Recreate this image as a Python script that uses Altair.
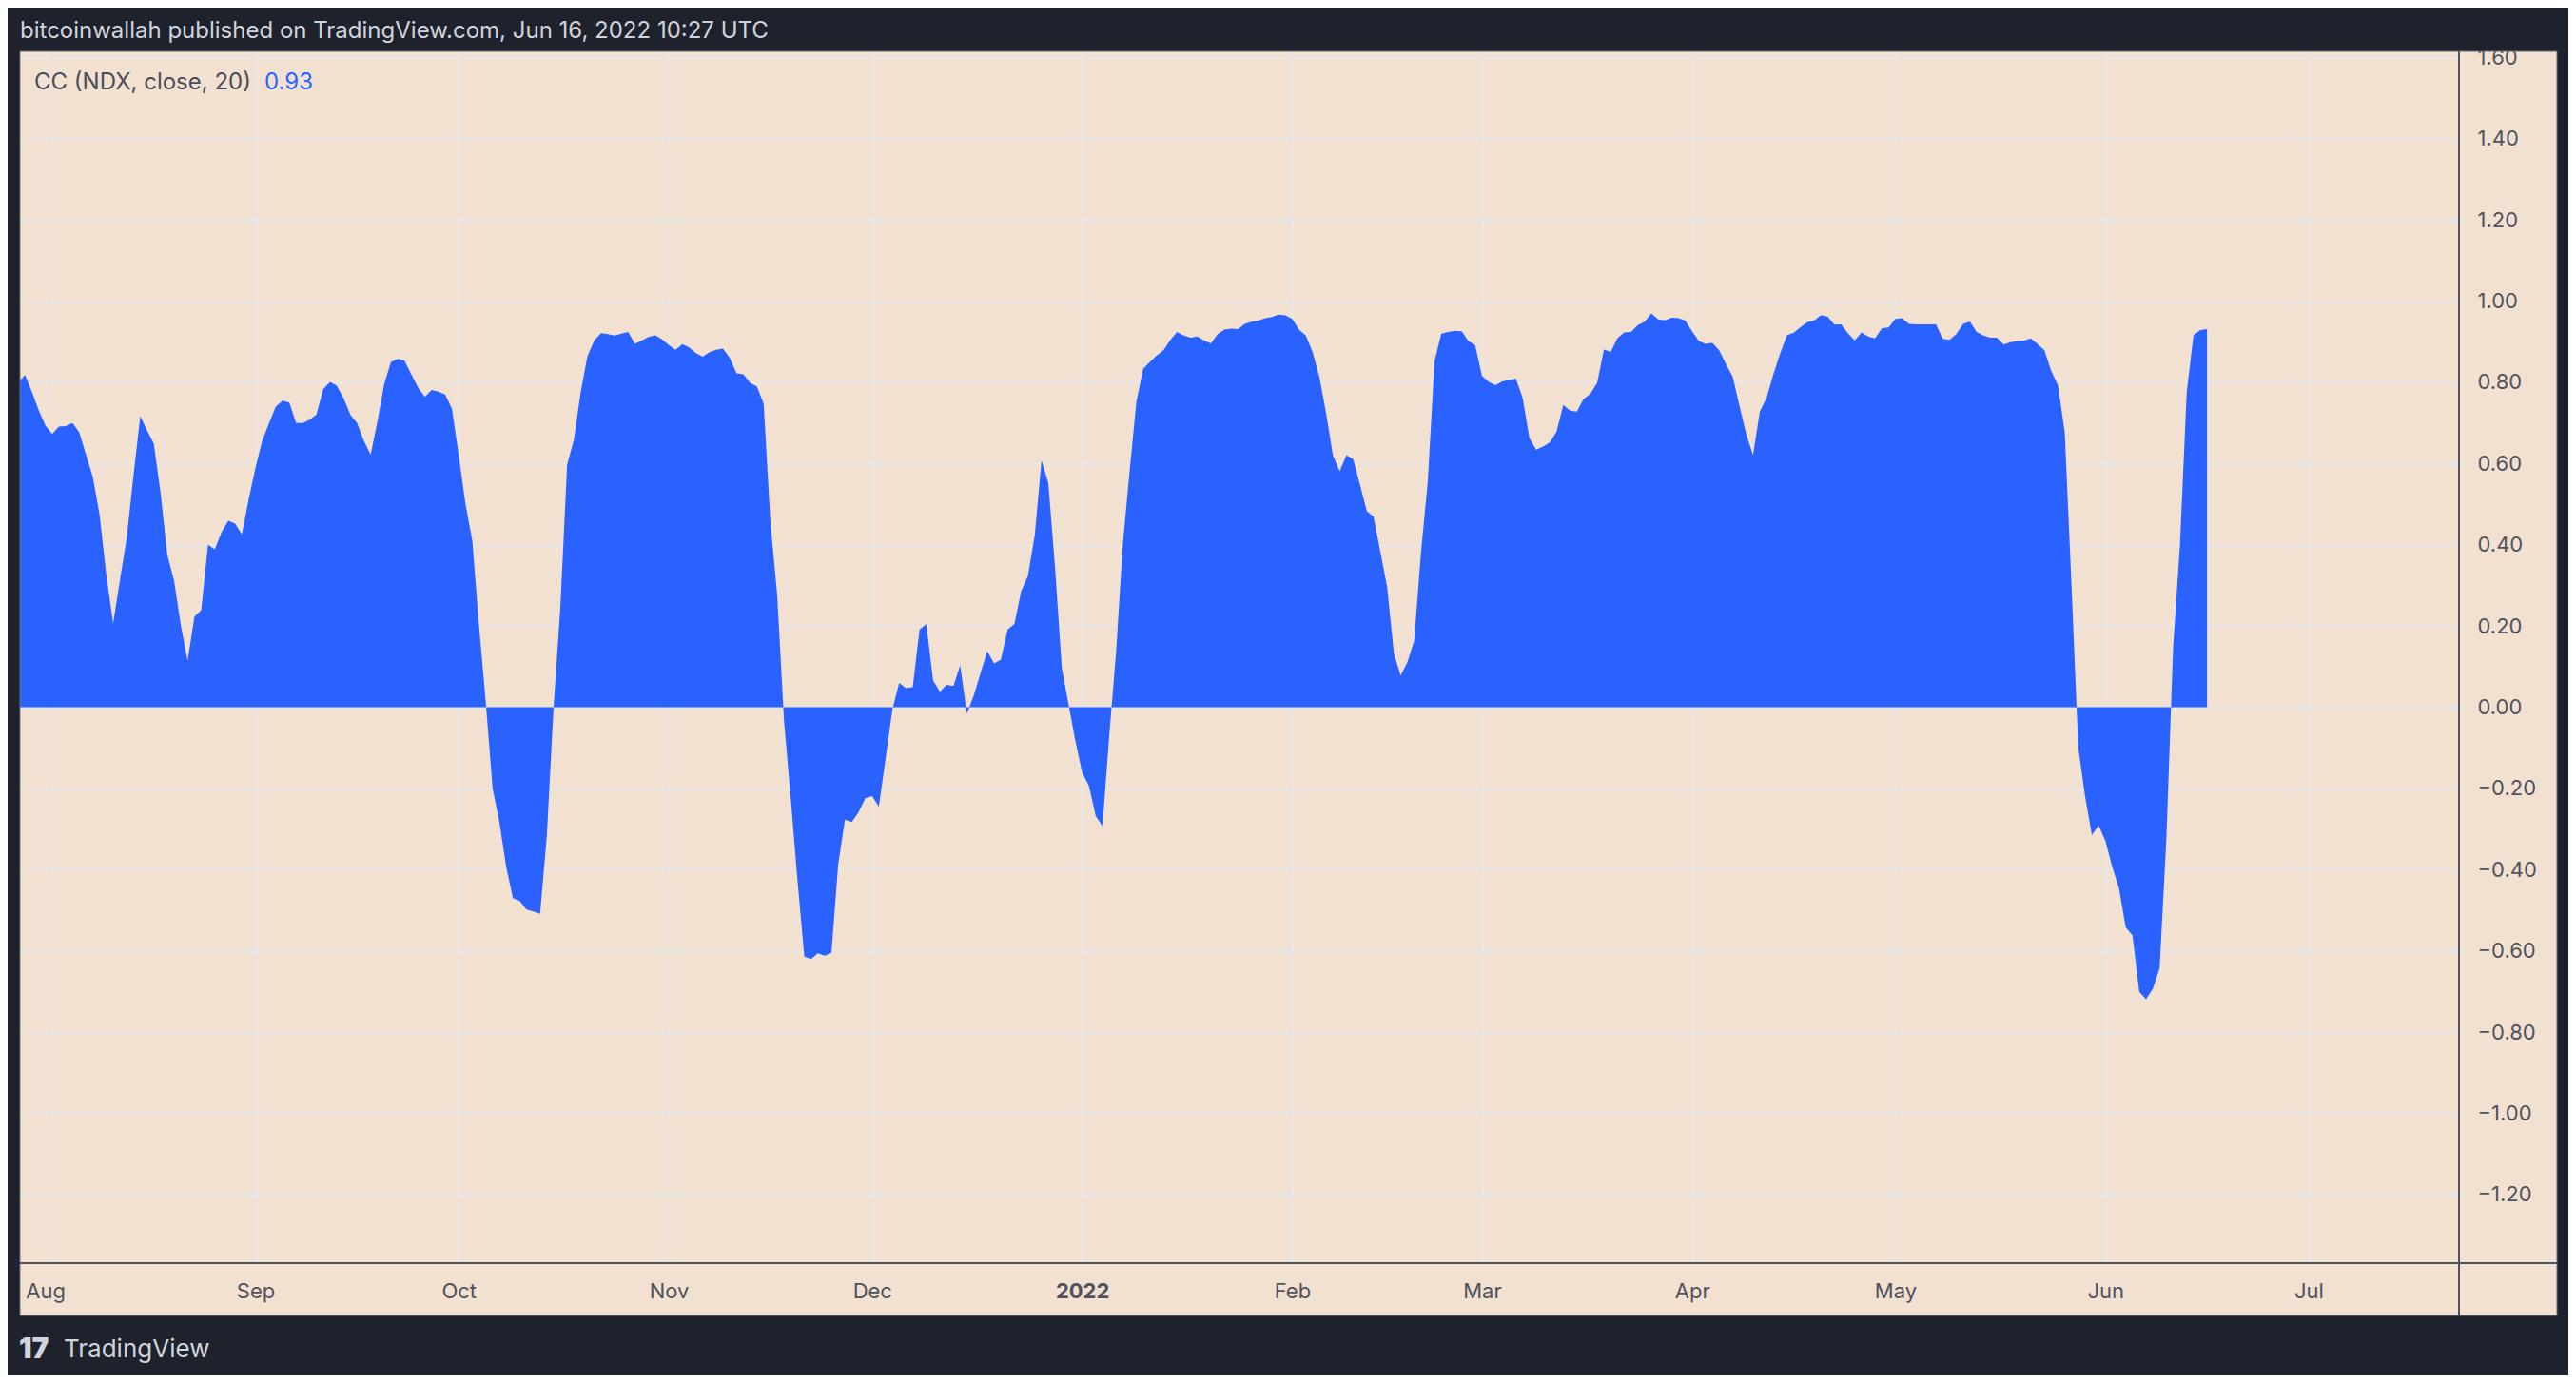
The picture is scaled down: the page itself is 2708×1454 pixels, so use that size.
import altair as alt
import pandas as pd

# CC(NDX, close, 20) daily values, starting 2021-07-28
first_day = "2021-07-28"
cc = [
    # Jul 28-31
    0.800, 0.818, 0.777, 0.732,
    # Aug
    0.694, 0.673, 0.691, 0.692, 0.700, 0.677, 0.622, 0.567, 0.474, 0.325,
    0.206, 0.313, 0.416, 0.570, 0.716, 0.682, 0.649, 0.528, 0.375, 0.311,
    0.201, 0.115, 0.223, 0.239, 0.400, 0.389, 0.431, 0.459, 0.452, 0.426, 0.512,
    # Sep
    0.589, 0.656, 0.699, 0.740, 0.755, 0.750, 0.700, 0.700, 0.708, 0.721,
    0.783, 0.801, 0.792, 0.761, 0.720, 0.700, 0.656, 0.622, 0.703, 0.796,
    0.850, 0.858, 0.853, 0.820, 0.787, 0.764, 0.781, 0.777, 0.770, 0.735,
    # Oct
    0.620, 0.500, 0.410, 0.200, 0.010, -0.200, -0.283, -0.393, -0.470, -0.477,
    -0.498, -0.503, -0.509, -0.317, 0.000, 0.247, 0.598, 0.659, 0.776, 0.865,
    0.903, 0.921, 0.919, 0.915, 0.920, 0.924, 0.895, 0.903, 0.912, 0.916, 0.906,
    # Nov
    0.892, 0.880, 0.894, 0.886, 0.872, 0.863, 0.874, 0.880, 0.883, 0.860,
    0.822, 0.820, 0.799, 0.790, 0.747, 0.456, 0.276, -0.033, -0.224, -0.428,
    -0.614, -0.620, -0.606, -0.612, -0.605, -0.387, -0.277, -0.283, -0.259, -0.224,
    # Dec
    -0.219, -0.245, -0.126, -0.005, 0.060, 0.047, 0.049, 0.191, 0.205, 0.066,
    0.038, 0.055, 0.052, 0.103, -0.016, 0.029, 0.084, 0.138, 0.108, 0.117,
    0.191, 0.205, 0.286, 0.323, 0.423, 0.607, 0.553, 0.344, 0.096, 0.006, -0.083,
    # Jan
    -0.161, -0.194, -0.268, -0.293, -0.069, 0.135, 0.400, 0.581, 0.752, 0.833,
    0.850, 0.866, 0.879, 0.904, 0.924, 0.915, 0.910, 0.913, 0.903, 0.896,
    0.919, 0.930, 0.932, 0.931, 0.944, 0.949, 0.952, 0.958, 0.961, 0.967, 0.965,
    # Feb
    0.956, 0.930, 0.915, 0.875, 0.814, 0.724, 0.620, 0.581, 0.621, 0.611,
    0.548, 0.483, 0.469, 0.383, 0.297, 0.133, 0.078, 0.111, 0.164, 0.380,
    0.555, 0.852, 0.920, 0.924, 0.927, 0.926, 0.902, 0.891,
    # Mar
    0.816, 0.801, 0.793, 0.802, 0.806, 0.809, 0.762, 0.663, 0.634, 0.642,
    0.652, 0.678, 0.744, 0.730, 0.728, 0.759, 0.772, 0.799, 0.881, 0.875,
    0.909, 0.923, 0.924, 0.941, 0.949, 0.970, 0.955, 0.953, 0.959, 0.958, 0.952,
    # Apr
    0.926, 0.902, 0.895, 0.897, 0.879, 0.845, 0.814, 0.742, 0.672, 0.621,
    0.728, 0.762, 0.820, 0.871, 0.916, 0.922, 0.936, 0.948, 0.952, 0.965,
    0.962, 0.942, 0.943, 0.921, 0.903, 0.923, 0.913, 0.908, 0.933, 0.935,
    # May
    0.956, 0.958, 0.944, 0.943, 0.943, 0.943, 0.943, 0.907, 0.905, 0.919,
    0.944, 0.950, 0.924, 0.915, 0.910, 0.910, 0.893, 0.899, 0.902, 0.903,
    0.908, 0.894, 0.879, 0.828, 0.793, 0.677, 0.300, -0.100, -0.219, -0.315, -0.291,
    # Jun 1-16
    -0.329, -0.393, -0.445, -0.542, -0.562, -0.701, -0.719, -0.693, -0.643, -0.323,
    0.150, 0.398, 0.776, 0.916, 0.929, 0.931,
]

month_ticks = [
    "2021-08-01", "2021-09-01", "2021-10-01", "2021-11-01", "2021-12-01",
    "2022-01-01", "2022-02-01", "2022-03-01", "2022-04-01", "2022-05-01",
    "2022-06-01", "2022-07-01",
]
y_ticks = [-1.2, -1.0, -0.8, -0.6, -0.4, -0.2, 0.0, 0.2, 0.4, 0.6, 0.8, 1.0, 1.2, 1.4, 1.6]

title_text = "bitcoinwallah published on TradingView.com, Jun 16, 2022 10:27 UTC"
legend_name = "CC (NDX, close, 20)"
legend_value = "0.93"
brand = "TradingView"

DARK = "#1e222d"
PANE = "#f2e0d0"
GRID = "#e6e8ea"
BLUE = "#2962ff"
AXIS = "#50535e"
FONT = "Inter"

W, H = 2564, 1274  # plot area


def utc_ms(s):
    return int(pd.Timestamp(s, tz="UTC").value // 10**6)


DAY = 86400000
x_lo = utc_ms("2021-08-01") - 3.748 * DAY
x_hi = utc_ms("2021-08-01") + 356.18 * DAY

dates = pd.date_range(first_day, periods=len(cc), freq="D")
df = pd.DataFrame({"date": dates.strftime("%Y-%m-%d"), "cc": cc})
one = pd.DataFrame({"k": [0]})

area = alt.Chart(df).mark_area(color=BLUE, clip=True).encode(
    x=alt.X(
        "date:T",
        title=None,
        scale=alt.Scale(type="utc", domain=[x_lo, x_hi]),
        axis=alt.Axis(
            values=[utc_ms(m) for m in month_ticks],
            labelExpr="utcmonth(datum.value) == 0 ? utcFormat(datum.value, '%Y') : utcFormat(datum.value, '%b')",
            labelFontWeight={"condition": {"test": "utcmonth(datum.value) == 0", "value": "bold"}, "value": "normal"},
            domain=False, ticks=False, tickSize=0,
            labelPadding=29, labelBaseline="middle", labelFlush=False, labelOverlap=False,
            labelFont=FONT, labelFontSize=22, labelColor=AXIS,
            gridColor=GRID, gridWidth=2,
        ),
    ),
    y=alt.Y(
        "cc:Q",
        title=None,
        scale=alt.Scale(domain=[-1.369, 1.615], nice=False, zero=False),
        axis=alt.Axis(
            orient="right", values=y_ticks, format=".2f",
            domain=False, ticks=False, tickSize=0,
            labelPadding=19, labelBaseline="middle", labelOverlap=False,
            labelFont=FONT, labelFontSize=22, labelColor=AXIS,
            gridColor=GRID, gridWidth=2,
        ),
    ),
    y2=alt.datum(0),
)


def box(x1, x2, y1, y2, **kw):
    return alt.Chart(one).mark_rect(**kw).encode(
        x=alt.value(x1), x2=alt.value(x2), y=alt.value(y1), y2=alt.value(y2)
    )


def label(text, x, y, **kw):
    return alt.Chart(one).mark_text(
        text=text, align="left", baseline="middle", font=FONT, **kw
    ).encode(x=alt.value(x), y=alt.value(y))


# dark frame around the pane
frame = [
    box(-13, 2679, -46, 0, color=DARK),
    box(-13, 2679, 1329, 1392, color=DARK),
    box(-13, 0, 0, 1329, color=DARK),
    box(2667, 2679, 0, 1329, color=DARK),
    box(0, 2667, 0, 1329, fill=PANE, fillOpacity=0, stroke="#6e717b", strokeWidth=1),
]

vline = alt.Chart(one).mark_rule(color=AXIS, strokeWidth=2).encode(
    x=alt.value(W), y=alt.value(0), y2=alt.value(1329)
)
hline = alt.Chart(one).mark_rule(color=AXIS, strokeWidth=2).encode(
    x=alt.value(0), x2=alt.value(2667), y=alt.value(H)
)

texts = [
    label(title_text, 0, -21, fontSize=24, color="#d1d4dc"),
    label(legend_name, 15, 33, fontSize=24, color="#4a4d57"),
    label(legend_value, 257, 33, fontSize=24, color=BLUE),
    label("17", -1, 1365, fontSize=30, fontWeight=900, color="#d1d4dc"),
    label(brand, 46, 1365, fontSize=26, color="#d1d4dc"),
]

chart = alt.layer(area, *frame, vline, hline, *texts).properties(
    width=W,
    height=H,
    autosize=alt.AutoSizeParams(type="none"),
    padding={"left": 13, "top": 46, "right": 115, "bottom": 118},
    background=PANE,
).configure_view(strokeWidth=0)

chart.save("out.html", embed_options={"renderer": "svg", "actions": False})
